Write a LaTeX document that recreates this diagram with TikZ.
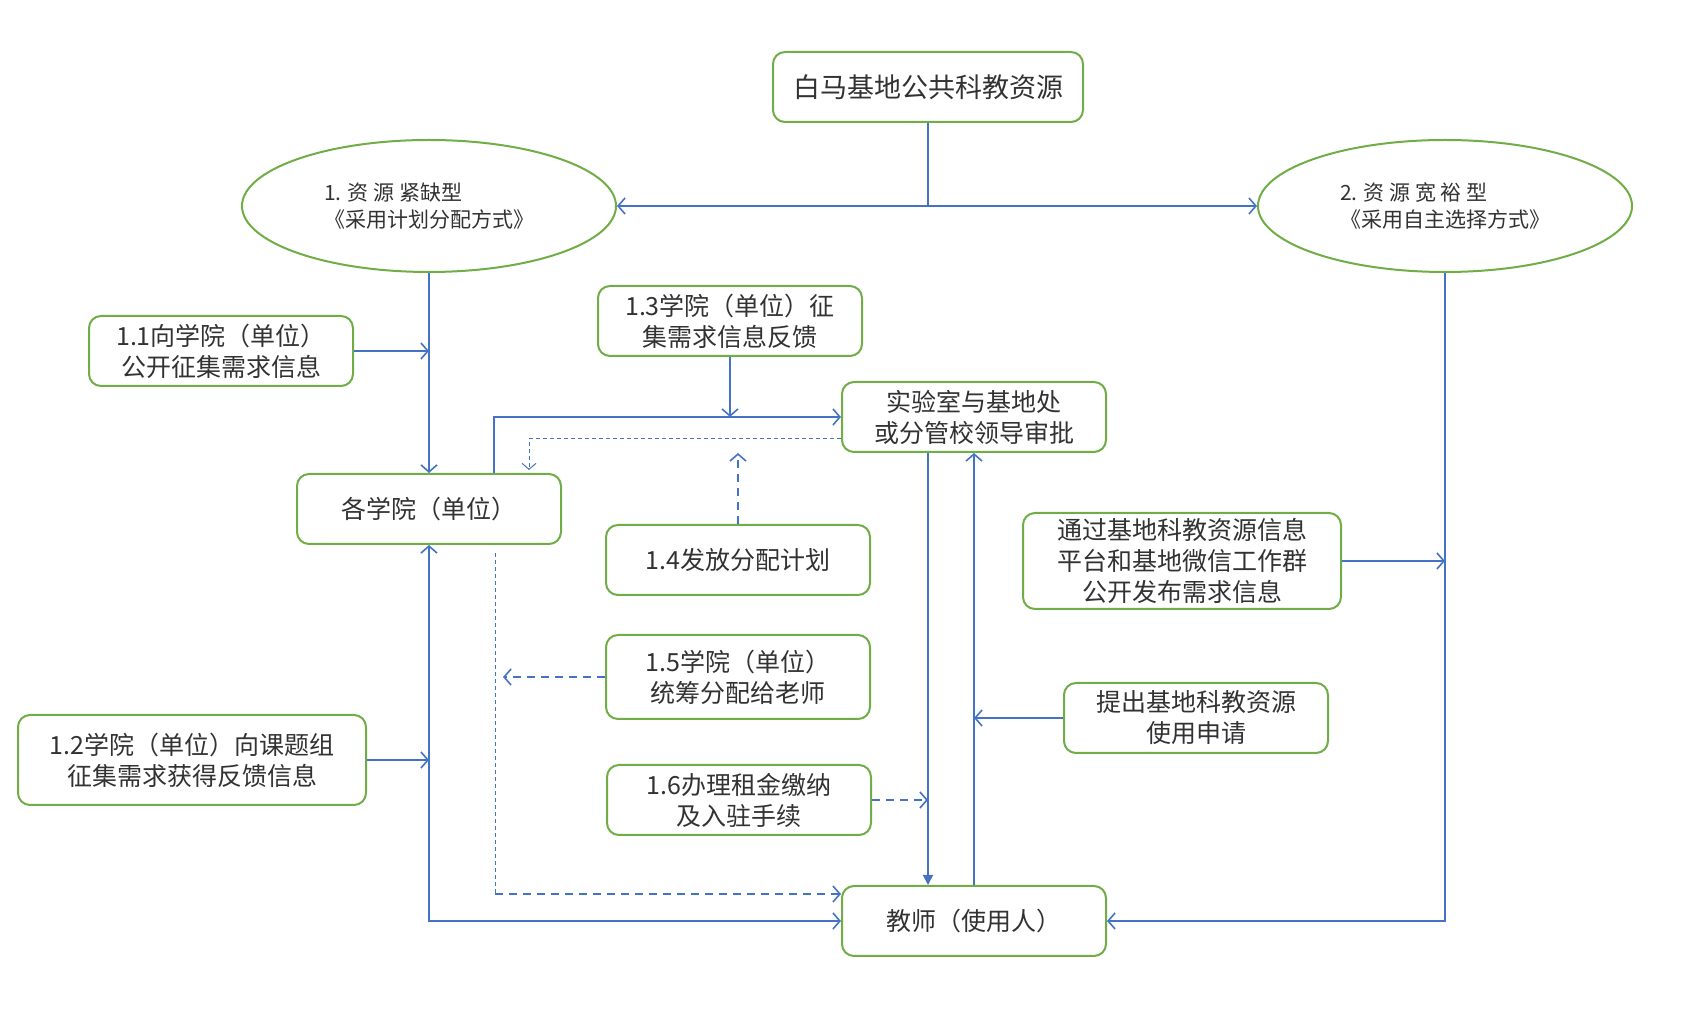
\documentclass[tikz,border=0pt]{standalone}
\usepackage{fontspec}
\setmainfont{Noto Sans CJK SC}
\usetikzlibrary{arrows.meta,shapes.geometric}

\definecolor{verde}{RGB}{112,173,71}
\definecolor{azul}{RGB}{68,114,196}
\definecolor{texto}{RGB}{50,50,50}

\tikzset{
  punta/.tip={Straight Barb[length=3.5pt,width=8pt]},
  caja/.style={draw=verde, line width=1pt, rounded corners=6pt, align=center,
    text=texto, inner sep=0pt, minimum width=132pt, minimum height=35pt,
    font=\fontsize{12.5}{15.5}\selectfont},
  elipse/.style={ellipse, draw=verde, line width=1pt, align=left, text=texto,
    inner sep=0pt, minimum width=187pt, minimum height=66pt,
    font=\fontsize{10.5}{13.5}\selectfont},
  linea/.style={draw=azul, line width=0.8pt},
  flecha/.style={linea, -punta},
  doble/.style={linea, punta-punta},
  flechallena/.style={linea, -{Triangle[length=5pt,width=5pt]}},
  discontinua/.style={flecha, dash pattern=on 4pt off 3pt},
  punteado/.style={linea, line width=0.5pt, dash pattern=on 2pt off 1.5pt}
}

\begin{document}
\begin{tikzpicture}[x=0.5pt,y=-0.5pt]
        \useasboundingbox (0,0) rectangle (1688,1020);

        % Paso 1: Recurso comun y los dos tipos
        \node[caja, minimum width=155pt, font=\fontsize{13.5}{16}\selectfont]
            (recursos) at (928,87) {白马基地公共科教资源};
        \node[elipse] (escaso) at (429,206) {1. 资 源 紧缺型\\《采用计划分配方式》};
        \node[elipse] (amplio) at (1445,206) {2. 资 源 宽 裕 型\\《采用自主选择方式》};

        % Paso 2: Cajas del lado izquierdo (tipo 1)
        \node[caja] (c11) at (221,351) {1.1向学院（单位）\\公开征集需求信息};
        \node[caja] (c13) at (730,321) {1.3学院（单位）征\\集需求信息反馈};
        \node[caja] (colegios) at (429,509) {各学院（单位）};
        \node[caja] (c14) at (738,560) {1.4发放分配计划};
        \node[caja, minimum height=42pt] (c15) at (738,677) {1.5学院（单位）\\统筹分配给老师};
        \node[caja, minimum width=174pt, minimum height=45pt]
            (c12) at (192,760) {1.2学院（单位）向课题组\\征集需求获得反馈信息};
        \node[caja] (c16) at (739,800) {1.6办理租金缴纳\\及入驻手续};

        % Paso 3: Aprobacion, profesor y cajas del lado derecho (tipo 2)
        \node[caja] (lab) at (974,417) {实验室与基地处\\或分管校领导审批};
        \node[caja] (prof) at (974,921) {教师（使用人）};
        \node[caja, minimum width=159pt, minimum height=48pt]
            (pub) at (1182,561) {通过基地科教资源信息\\平台和基地微信工作群\\公开发布需求信息};
        \node[caja] (solic) at (1196,718) {提出基地科教资源\\使用申请};

        % Paso 4: Puntos auxiliares
        \coordinate (bajar) at ([xshift=-23pt]lab.south);
        \coordinate (sube) at ([xshift=32.5pt]colegios.north);
        \coordinate (d1) at (529,470);
        \coordinate (d3) at (495,553);
        \coordinate (d4) at (495,894);

        % Paso 5: Reparto del recurso a los dos tipos
        \draw[linea] (recursos.south) -- (recursos.south |- escaso.east);
        \draw[doble] (escaso.east) -- (amplio.west);

        % Paso 6: Flujo del tipo 1
        \draw[flecha] (escaso.south) -- (colegios.north);
        \draw[flecha] (c11.east) -- (c11.east -| colegios.north);
        \draw[flecha] (c12.east) -- (c12.east -| colegios.south);
        \draw[doble] (colegios.south) |- (prof.west);
        \draw[flecha] (sube) |- (lab.west);
        \draw[flecha] (c13.south) -- (c13.south |- lab.west);
        \draw[punteado, -{Straight Barb[length=3pt,width=7pt]}] ([yshift=-11pt]lab.west) -| (d1);
        \draw[discontinua] (c14.north) -- (c14.north |- lab.south);
        \draw[punteado] (d3) -- (d4);
        \draw[discontinua] (d4) -- (d4 -| prof.west);
        \draw[discontinua] (c15.west) -- ([xshift=4pt]c15.west -| d3);
        \draw[discontinua] (c16.east) -- (c16.east -| bajar);
        \draw[flechallena] (bajar) -- (bajar |- prof.north);

        % Paso 7: Flujo del tipo 2
        \draw[flecha] (prof.north) -- (lab.south);
        \draw[flecha] (solic.west) -- (solic.west -| prof.north);
        \draw[flecha] (amplio.south) |- (prof.east);
        \draw[flecha] (pub.east) -- (pub.east -| amplio.south);
\end{tikzpicture}
\end{document}
